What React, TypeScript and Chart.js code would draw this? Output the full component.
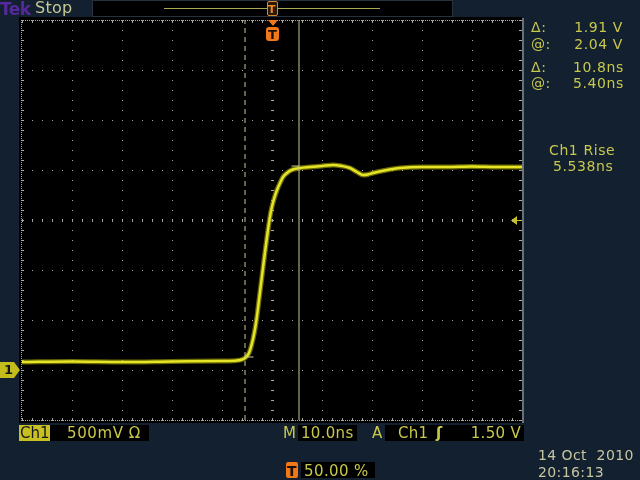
import React, { useEffect, useRef } from "react";
import { Chart, registerables } from "chart.js";

Chart.register(...registerables);

// ---- Data ----
const timeNs = [
  -50, -40, -30, -20, -10, -7, -6, -5.4, -5.0, -4.6, -4.2, -3.8, -3.4, -3.0, -2.6, -2.2, -1.8, -1.4,
  -1.0, -0.6, -0.2, 0.4, 1.0, 1.6, 2.2, 3.0, 3.9, 5.6, 7.6, 10, 12.2, 14, 15.6, 17, 18.2, 19.2,
  20.2, 23, 25.6, 30, 35, 40, 45, 50,
];
const ch1Volts = [
  0.08, 0.085, 0.08, 0.085, 0.09, 0.095, 0.105, 0.12, 0.14, 0.17, 0.23, 0.31, 0.41, 0.54, 0.7,
  0.86, 1.02, 1.18, 1.33, 1.47, 1.59, 1.71, 1.8, 1.87, 1.93, 1.97, 2.0, 2.02, 2.03, 2.04, 2.05,
  2.04, 2.02, 1.98, 1.95, 1.955, 1.97, 2.0, 2.02, 2.03, 2.03, 2.035, 2.03, 2.03,
];
const cursorTimesNs = [-5.4, 5.4];
const cursorVolts = [0.13, 2.04];
const triggerLevelV = 1.5;
const groundV = 0;
const timeTicksNs = [-50, -40, -30, -20, -10, 0, 10, 20, 30, 40, 50];
const voltTicks = [-0.5, 0, 0.5, 1, 1.5, 2, 2.5, 3, 3.5];

const BG = "#12202f";
const TXT = "#c8c84c";
const PALE = "#c8c894";

const graticulePlugin = {
  id: "scopeGraticule",
  beforeDraw(chart: any) {
    const ctx = chart.ctx;
    const { left, right, top, bottom } = chart.chartArea;
    ctx.save();
    ctx.fillStyle = BG;
    ctx.fillRect(0, 0, chart.width, chart.height);
    ctx.fillStyle = "#000";
    ctx.fillRect(left - 3, top - 3, right - left + 3, bottom - top + 6);
    ctx.restore();
  },
  beforeDatasetsDraw(chart: any) {
    const ctx = chart.ctx;
    const xs = chart.scales.x;
    const ys = chart.scales.y;
    const { right, top, bottom, left } = chart.chartArea;
    const L = Math.round(left) - 1;
    const R = Math.round(right);
    const T = Math.round(top);
    const B = Math.round(bottom);
    ctx.save();
    ctx.fillStyle = "#a8a8a8";
    const tMin = timeTicksNs[0];
    const tMax = timeTicksNs[timeTicksNs.length - 1];
    const vMin = voltTicks[0];
    const vMax = voltTicks[voltTicks.length - 1];
    const minorT: number[] = [];
    for (let i = 0; i <= 50; i++) minorT.push(tMin + (i * (tMax - tMin)) / 50);
    const minorV: number[] = [];
    for (let i = 0; i <= 40; i++) minorV.push(vMin + (i * (vMax - vMin)) / 40);
    for (const t of timeTicksNs) {
      if (t === tMin || t === tMax) continue;
      const px = Math.round(xs.getPixelForValue(t));
      for (const v of minorV) {
        const py = Math.round(ys.getPixelForValue(v));
        if (t === 0) ctx.fillRect(px - 1, py, 3, 1);
        else ctx.fillRect(px, py, 1, 1);
      }
    }
    for (const v of voltTicks) {
      if (v === vMin || v === vMax) continue;
      const py = Math.round(ys.getPixelForValue(v));
      for (const t of minorT) {
        const px = Math.round(xs.getPixelForValue(t));
        if (v === triggerLevelV) ctx.fillRect(px, py - 1, 1, 3);
        else ctx.fillRect(px, py, 1, 1);
      }
    }
    for (let x = L; x <= R; x += 2) {
      ctx.fillRect(x, T, 1, 1);
      ctx.fillRect(x, B, 1, 1);
    }
    for (let y = T; y <= B; y += 2) ctx.fillRect(L, y, 1, 1);
    for (const t of minorT) {
      const px = Math.round(xs.getPixelForValue(t));
      ctx.fillRect(px, T, 1, 3);
      ctx.fillRect(px, B - 2, 1, 3);
    }
    for (const v of minorV) {
      const py = Math.round(ys.getPixelForValue(v));
      ctx.fillRect(L, py, 3, 1);
      ctx.fillRect(R - 3, py, 3, 1);
    }
    ctx.fillStyle = "#68707a";
    ctx.fillRect(R, T - 2, 2, B - T + 5);
    ctx.restore();
  },
  afterDatasetsDraw(chart: any) {
    const ctx = chart.ctx;
    const ys = chart.scales.y;
    const { left, right } = chart.chartArea;
    ctx.save();
    const gy = Math.round(ys.getPixelForValue(groundV));
    const gl = Math.round(left) - 2;
    ctx.fillStyle = "#c4bc1c";
    ctx.beginPath();
    ctx.moveTo(0, gy - 8);
    ctx.lineTo(gl - 6, gy - 8);
    ctx.lineTo(gl, gy);
    ctx.lineTo(gl - 6, gy + 8);
    ctx.lineTo(0, gy + 8);
    ctx.closePath();
    ctx.fill();
    ctx.fillStyle = "#10181c";
    ctx.font = "bold 13px 'DejaVu Sans'";
    ctx.textBaseline = "middle";
    ctx.fillText("1", 4, gy + 1);
    const ty = Math.round(ys.getPixelForValue(triggerLevelV));
    const rx = Math.round(right);
    ctx.fillStyle = "#c4c030";
    ctx.beginPath();
    ctx.moveTo(rx - 11, ty + 0.5);
    ctx.lineTo(rx - 5, ty - 4);
    ctx.lineTo(rx - 5, ty + 5);
    ctx.closePath();
    ctx.fill();
    ctx.fillRect(rx - 5, ty, 5, 1);
    ctx.restore();
  },
};

const pts = (xs: number[], ys: number[]) => xs.map((x, i) => ({ x, y: ys[i] }));

function Txt(props: {
  x: number;
  base: number;
  size?: number;
  color?: string;
  bold?: boolean;
  right?: boolean;
  ls?: number;
  children: React.ReactNode;
}) {
  const size = props.size ?? 14;
  const style: React.CSSProperties = {
    position: "absolute",
    top: props.base - size * 0.85,
    fontFamily: "'DejaVu Sans', sans-serif",
    fontSize: size,
    lineHeight: `${size}px`,
    color: props.color ?? TXT,
    fontWeight: props.bold ? "bold" : "normal",
    letterSpacing: props.ls ?? 0.6,
    whiteSpace: "pre",
  };
  if (props.right) {
    style.left = props.x - 200;
    style.width = 200;
    style.textAlign = "right";
  } else {
    style.left = props.x;
  }
  return <div style={style}>{props.children}</div>;
}

function Box(props: { x: number; y: number; w: number; h: number; bg: string; border?: string; radius?: number }) {
  return (
    <div
      style={{
        position: "absolute",
        left: props.x,
        top: props.y,
        width: props.w,
        height: props.h,
        background: props.bg,
        border: props.border,
        boxSizing: "border-box",
        borderRadius: props.radius ?? 0,
      }}
    />
  );
}

export default function App() {
  const canvasRef = useRef<HTMLCanvasElement | null>(null);

  useEffect(() => {
    const canvas = canvasRef.current;
    if (!canvas) return;
    const chart = new Chart(canvas, {
      type: "line",
      data: {
        datasets: [
          {
            label: "cursor low",
            data: [
              { x: cursorTimesNs[0], y: cursorVolts[0] },
              { x: cursorTimesNs[0] + 1.7, y: cursorVolts[0] },
            ],
            borderColor: PALE,
            borderWidth: 1,
            pointRadius: 0,
          },
          {
            label: "cursor high",
            data: [
              { x: cursorTimesNs[1] - 1.5, y: cursorVolts[1] },
              { x: cursorTimesNs[1], y: cursorVolts[1] },
            ],
            borderColor: PALE,
            borderWidth: 1,
            pointRadius: 0,
          },
          {
            label: "cursor a",
            data: [
              { x: cursorTimesNs[0], y: voltTicks[0] },
              { x: cursorTimesNs[0], y: voltTicks[voltTicks.length - 1] },
            ],
            borderColor: PALE,
            borderDash: [5, 4],
            borderWidth: 1,
            pointRadius: 0,
          },
          {
            label: "cursor b",
            data: [
              { x: cursorTimesNs[1], y: voltTicks[0] },
              { x: cursorTimesNs[1], y: voltTicks[voltTicks.length - 1] },
            ],
            borderColor: PALE,
            borderWidth: 1,
            pointRadius: 0,
          },
          {
            label: "Ch1",
            data: pts(timeNs, ch1Volts),
            borderColor: "#e6e426",
            borderWidth: 2.5,
            pointRadius: 0,
            cubicInterpolationMode: "monotone",
          },
          {
            label: "Ch1 glow",
            data: pts(timeNs, ch1Volts),
            borderColor: "rgba(190,190,10,0.55)",
            borderWidth: 5,
            pointRadius: 0,
            cubicInterpolationMode: "monotone",
          },
        ],
      },
      options: {
        animation: false,
        responsive: false,
        devicePixelRatio: 1,
        layout: { padding: { left: 22, top: 20, right: 118, bottom: 60 } },
        plugins: { legend: { display: false }, tooltip: { enabled: false } },
        events: [],
        scales: {
          x: { type: "linear", min: timeTicksNs[0], max: timeTicksNs[timeTicksNs.length - 1], display: false },
          y: { type: "linear", min: voltTicks[0], max: voltTicks[voltTicks.length - 1], display: false },
        },
      },
      plugins: [graticulePlugin],
    } as any);
    return () => chart.destroy();
  }, []);

  return (
    <div style={{ position: "fixed", left: 0, top: 0, width: 640, height: 480, overflow: "hidden", background: BG }}>
      <canvas ref={canvasRef} width={640} height={480} style={{ position: "absolute", left: 0, top: 0 }} />
      <Txt x={0} base={15} size={17} bold color="#55289c" ls={-0.5}>Tek</Txt>
      <Txt x={35} base={14} size={16} color={PALE} ls={0.3}>Stop</Txt>
      <Box x={92} y={0} w={361} h={17} bg="#000" border="1px solid #28323e" />
      <Box x={164} y={8} w={216} h={1} bg="#aaa850" />
      <Box x={267} y={1} w={11} h={15} bg="#2a1a08" border="1px solid #d88a30" radius={2} />
      <Txt x={268} base={13} size={11} bold color="#f08a20" ls={0}>T</Txt>
      <div
        style={{
          position: "absolute",
          left: 268,
          top: 20,
          width: 0,
          height: 0,
          borderLeft: "5px solid transparent",
          borderRight: "5px solid transparent",
          borderTop: "6px solid #f07818",
        }}
      />
      <Box x={266} y={27} w={13} h={14} bg="#f07818" radius={3} />
      <Txt x={268} base={39} size={13} bold color="#1a1008" ls={0}>T</Txt>

      <Txt x={531} base={32}>Δ:</Txt>
      <Txt x={623} base={32} right>1.91 V</Txt>
      <Txt x={531} base={49}>@:</Txt>
      <Txt x={623} base={49} right>2.04 V</Txt>
      <Txt x={531} base={72}>Δ:</Txt>
      <Txt x={624} base={72} right>10.8ns</Txt>
      <Txt x={531} base={88}>@:</Txt>
      <Txt x={624} base={88} right>5.40ns</Txt>
      <Txt x={549} base={155}>Ch1 Rise</Txt>
      <Txt x={553} base={171}>5.538ns</Txt>

      <Box x={19} y={425} w={31} h={16} bg="#c8c020" />
      <Txt x={20} base={439} size={15} color="#14181c" ls={0}>Ch1</Txt>
      <Box x={50} y={425} w={99} h={16} bg="#000" />
      <Txt x={67} base={439} size={15}>500mV Ω</Txt>
      <Txt x={283} base={439} size={15} ls={0}>M</Txt>
      <Box x={298} y={425} w={59} h={16} bg="#000" />
      <Txt x={301} base={439} size={15} ls={0.3}>10.0ns</Txt>
      <Txt x={372} base={439} size={15} ls={0}>A</Txt>
      <Box x={385} y={425} w={139} h={16} bg="#000" />
      <Txt x={398} base={439} size={15} ls={0.3}>Ch1</Txt>
      <Txt x={436} base={439} size={15} bold ls={0}>ʃ</Txt>
      <Txt x={521} base={439} size={15} right ls={0.3}>1.50 V</Txt>

      <Box x={286} y={462} w={12} h={16} bg="#f07818" radius={2} />
      <Txt x={287} base={476} size={14} bold color="#1a1008" ls={0}>T</Txt>
      <Box x={301} y={462} w={74} h={16} bg="#000" />
      <Txt x={304} base={477} size={15} ls={0.4}>50.00 %</Txt>

      <Txt x={538} base={460} size={14} color="#c6c6a0" ls={0.4}>14 Oct  2010</Txt>
      <Txt x={538} base={477} size={14} color="#c6c6a0" ls={0.4}>20:16:13</Txt>
    </div>
  );
}
